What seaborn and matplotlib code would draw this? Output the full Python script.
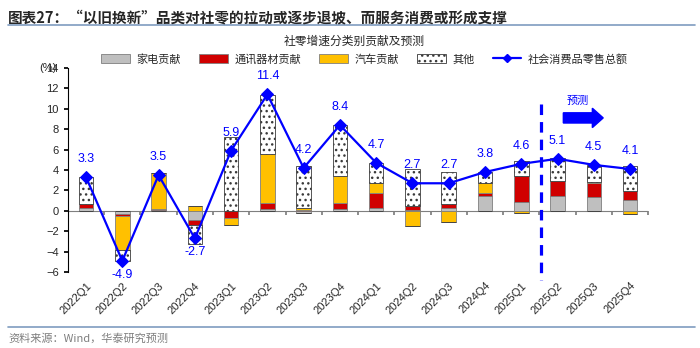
import numpy as np
import pandas as pd
import matplotlib
matplotlib.use("Agg")
import matplotlib.pyplot as plt
import seaborn as sns
from matplotlib.patches import Patch
from matplotlib.lines import Line2D

quarters = ["2022Q1", "2022Q2", "2022Q3", "2022Q4", "2023Q1", "2023Q2", "2023Q3", "2023Q4",
            "2024Q1", "2024Q2", "2024Q3", "2024Q4", "2025Q1", "2025Q2", "2025Q3", "2025Q4"]
appliance = [0.25, -0.3, 0.1, -0.9, 0.0, 0.23, -0.2, 0.2, 0.25, 0.1, 0.25, 1.5, 0.85, 1.5, 1.35, 1.05]
telecom = [0.45, -0.23, 0.1, -0.45, -0.7, 0.5, 0.05, 0.6, 1.5, 0.4, 0.45, 0.25, 2.6, 1.4, 1.35, 0.85]
auto = [0.0, -3.3, 3.5, 0.43, -0.65, 4.85, 0.25, 2.6, 1.0, -1.45, -1.1, 1.0, -0.25, 0.05, 0.1, -0.3]
other = [2.6, -1.1, 0.0, -1.85, 7.2, 5.8, 4.1, 5.0, 1.95, 3.64, 3.1, 1.05, 1.4, 2.2, 1.7, 2.5]
retail_total = [3.3, -4.9, 3.5, -2.7, 5.9, 11.4, 4.2, 8.4, 4.7, 2.7, 2.7, 3.8, 4.6, 5.1, 4.5, 4.1]

series_names = ["家电贡献", "通讯器材贡献", "汽车贡献", "其他"]
line_name = "社会消费品零售总额"

sns.set_theme(style="white")
plt.rcParams["font.family"] = ["Liberation Sans", "Noto Sans CJK SC", "DejaVu Sans"]
plt.rcParams["hatch.linewidth"] = 1.0

fig = plt.figure(figsize=(7.0, 3.48), dpi=100)
ax = fig.add_axes([0.097, 0.218, 0.829, 0.587])

x = np.arange(len(quarters))
width = 0.4
styles = [
    dict(facecolor="#BFBFBF", edgecolor="#7F7F7F", linewidth=0.6),
    dict(facecolor="#D00000", edgecolor="#7F7F7F", linewidth=0.6),
    dict(facecolor="#FFC000", edgecolor="#7F7F7F", linewidth=0.6),
    dict(facecolor="white", edgecolor="#3A3A3A", hatch="...", linewidth=0.6),
]
pos_bottom = np.zeros(len(quarters))
neg_bottom = np.zeros(len(quarters))
for vals, st in zip([appliance, telecom, auto, other], styles):
    v = np.array(vals, dtype=float)
    pos = np.where(v > 0, v, 0)
    neg = np.where(v < 0, v, 0)
    ax.bar(x, pos, width, bottom=pos_bottom, zorder=2, **st)
    ax.bar(x, neg, width, bottom=neg_bottom, zorder=2, **st)
    pos_bottom += pos
    neg_bottom += neg

df = pd.DataFrame({"x": x, "total": retail_total})
sns.lineplot(data=df, x="x", y="total", ax=ax, color="#0000FF", lw=1.6,
             marker="D", markersize=6, markeredgecolor="#0000FF", zorder=4)

for xi, v in zip(x, retail_total):
    off = 13 if v > 0 else -10
    ax.annotate(f"{v:.1f}", (xi, v), xytext=(0, off), textcoords="offset points",
                ha="center", va="center", color="#0000FF", fontsize=9)

ax.axhline(0, color="#7F7F7F", lw=0.8, zorder=1)
ax.set_xlim(-0.5, len(quarters) - 0.5)
ax.set_ylim(-6, 14)
ax.set_yticks(np.arange(-6, 15, 2))
ax.set_xticks(x)
ax.set_xticklabels(quarters, rotation=45, ha="right", rotation_mode="anchor", fontsize=8)
ax.tick_params(axis="x", length=0, pad=6)
ax.tick_params(axis="y", length=3, direction="out", labelsize=8, color="black", left=True)
ax.set_xlabel("")
ax.set_ylabel("")
for s in ["top", "right", "bottom"]:
    ax.spines[s].set_visible(False)
ax.spines["left"].set_color("black")
ax.spines["left"].set_linewidth(0.8)

sec = ax.secondary_xaxis(0.3)
sec.set_xticks(np.arange(0.5, len(quarters), 1.0))
sec.tick_params(axis="x", length=3, direction="out", labelbottom=False, color="#7F7F7F")
sec.spines["bottom"].set_visible(False)

ax.text(-0.02, 1.0, "(%)", transform=ax.transAxes, ha="right", va="center", fontsize=8)

# forecast divider and arrow
ax.plot([12.55, 12.55], [10.5, -6.8], color="#0000FF", lw=2.3,
        linestyle=(0, (3.3, 2.2)), clip_on=False, zorder=5)
ax.arrow(13.16, 9.1, 1.1, 0, width=1.0, head_width=1.9, head_length=0.3,
         length_includes_head=True, color="#0000FF", zorder=5)
ax.text(13.55, 10.8, "预测", color="#0000FF", fontsize=8, ha="center", va="center",
        style="italic", family=["Noto Sans CJK SC"])

# legend
handles = [Patch(**styles[0]), Patch(**styles[1]), Patch(**styles[2]), Patch(**styles[3]),
           Line2D([0], [0], color="#0000FF", lw=1.6, marker="D", markersize=4)]
fig.legend(handles, series_names + [line_name], loc="center", bbox_to_anchor=(0.521, 0.830),
           ncol=5, frameon=False, handlelength=2.6, handleheight=0.8,
           columnspacing=1.6, handletextpad=0.6,
           prop={"family": ["Noto Sans CJK SC"], "size": 8})

# titles and frame lines
fig.text(0.012, 0.951, "图表27：“以旧换新”品类对社零的拉动或逐步退坡、而服务消费或形成支撑",
         fontsize=10.5, fontweight="bold", ha="left", va="center",
         family=["Noto Sans CJK SC", "DejaVu Sans"])
fig.add_artist(Line2D([0.012, 0.993], [0.928, 0.928], color="#7F9CC0", lw=1.2))
fig.text(0.506, 0.882, "社零增速分类别贡献及预测", fontsize=8.5, ha="center", va="center",
         family=["Noto Sans CJK SC"])
fig.add_artist(Line2D([0.012, 0.993], [0.06, 0.06], color="#7F9CC0", lw=1.2))
fig.text(0.012, 0.028, "资料来源：Wind，华泰研究预测", fontsize=8, color="#7F7F7F",
         ha="left", va="center", family=["Noto Sans CJK SC", "DejaVu Sans"])

fig.savefig("out.png", dpi=100)
